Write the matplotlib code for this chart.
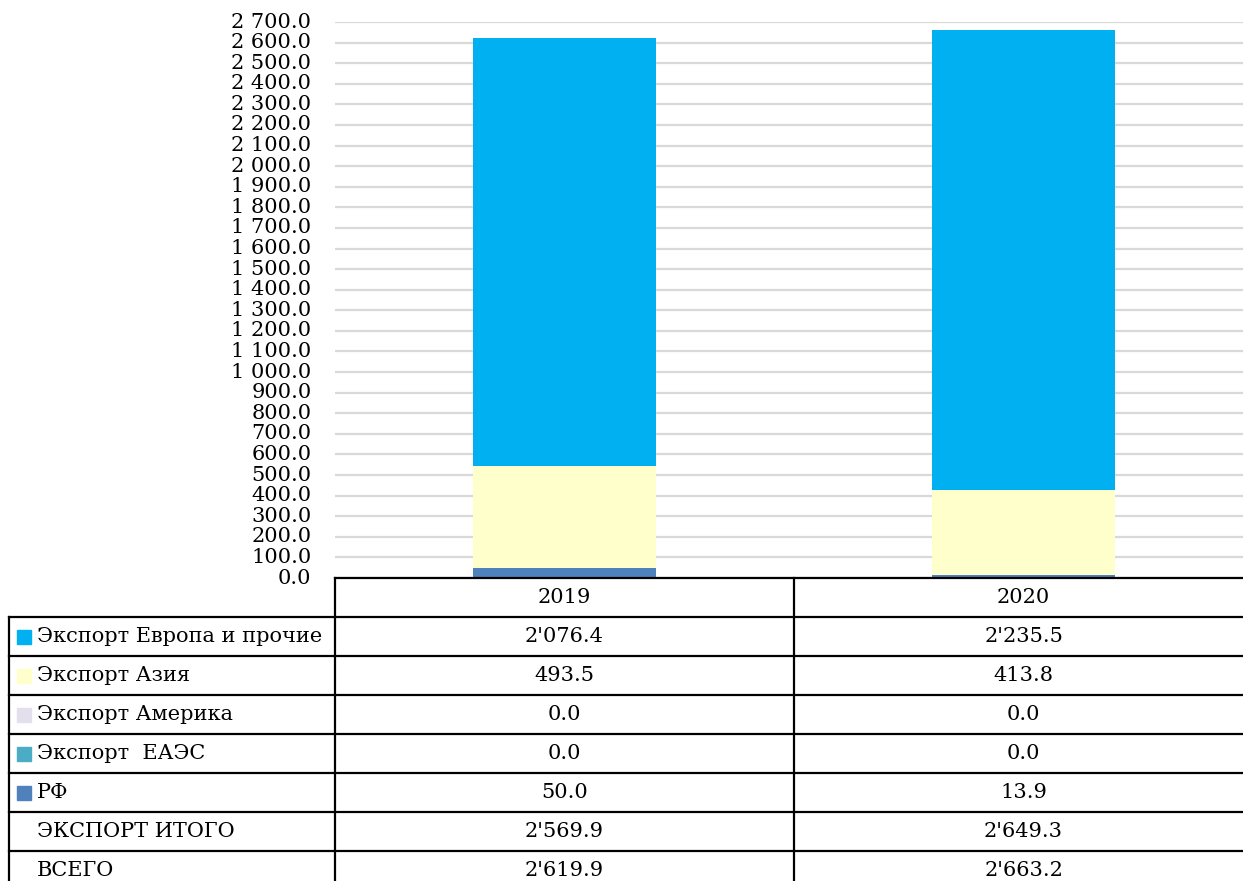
import matplotlib
matplotlib.use("Agg")
import matplotlib.pyplot as plt
from matplotlib.lines import Line2D
from matplotlib.patches import Rectangle
import matplotlib.transforms as mtransforms

years = ["2019", "2020"]
europe = [2076.4, 2235.5]
asia = [493.5, 413.8]
america = [0.0, 0.0]
eaes = [0.0, 0.0]
rf = [50.0, 13.9]
export_total = [2569.9, 2649.3]
total = [2619.9, 2663.2]

series_names = ["Экспорт Европа и прочие", "Экспорт Азия", "Экспорт Америка", "Экспорт  ЕАЭС", "РФ"]
series_values = [europe, asia, america, eaes, rf]
series_colors = ["#00B0F0", "#FFFFCC", "#E4DFEC", "#4BACC6", "#4F81BD"]
extra_rows = ["ЭКСПОРТ ИТОГО", "ВСЕГО"]
extra_values = [export_total, total]
yticks = list(range(0, 2701, 100))

plt.rcParams['font.family'] = ['DejaVu Serif']
FS = 15

W, H = 1243, 881
fig = plt.figure(figsize=(W / 100, H / 100), dpi=100)

def fx(x):
    return x / W

def fy(y):
    return 1 - y / H

ax_left, ax_right, ax_top, ax_bot = 335, 1253, 22, 578
ax = fig.add_axes([fx(ax_left), fy(ax_bot), (ax_right - ax_left) / W, (ax_bot - ax_top) / H])
ax.set_xlim(-0.5, 1.5)
ax.set_ylim(0, 2700)
ax.set_yticks(yticks)
ax.set_yticklabels([f"{v:,.1f}".replace(",", " ") for v in yticks], fontsize=FS)
ax.tick_params(axis='y', length=0, pad=17)
ax.tick_params(axis='x', length=0, labelbottom=False)
for lab in ax.get_yticklabels():
    lab.set_verticalalignment('center')
for s in ax.spines.values():
    s.set_visible(False)
ax.set_axisbelow(True)
ax.yaxis.grid(True, color="#D9D9D9", linewidth=1.6)
ax.set_xticks([])

xs = list(range(len(years)))
bottom = [0.0] * len(years)
# stack from bottom: РФ, ЕАЭС, Америка, Азия, Европа
for name, vals, col in reversed(list(zip(series_names, series_values, series_colors))):
    ax.bar(xs, vals, width=0.4, bottom=bottom, color=col, edgecolor='none', zorder=2)
    bottom = [b + v for b, v in zip(bottom, vals)]

# ---- data table ----
trans_x = mtransforms.blended_transform_factory(ax.transData, fig.transFigure)
row_h = 39
hdr_top = ax_bot
hdr_bot = hdr_top + row_h
n_rows = len(series_names) + len(extra_rows)
lw = 1.6
lab_left = 9

def fmt(v):
    return f"{v:,.1f}".replace(",", "'")

fig.add_artist(Line2D([fx(ax_left), 1.01], [fy(hdr_top)] * 2, color='black', lw=lw))
for b in [-0.5, 0.5]:
    fig.add_artist(Line2D([b, b], [fy(hdr_top), -0.05], color='black', lw=lw, transform=trans_x))
fig.add_artist(Line2D([fx(lab_left)] * 2, [fy(hdr_bot), -0.05], color='black', lw=lw))
for i in range(n_rows):
    y = hdr_bot + i * row_h
    fig.add_artist(Line2D([fx(lab_left), 1.01], [fy(y)] * 2, color='black', lw=lw))

for xi, yr in zip(xs, years):
    fig.text(xi, fy(hdr_top + row_h / 2), yr, transform=trans_x, ha='center', va='center', fontsize=FS)

rows = list(zip(series_names, series_values, series_colors)) + [(n, v, None) for n, v in zip(extra_rows, extra_values)]
for i, (name, vals, col) in enumerate(rows):
    yc = hdr_bot + i * row_h + row_h / 2
    if col is not None:
        fig.add_artist(Rectangle((fx(17), fy(yc + 7)), 14 / W, 14 / H, color=col, transform=fig.transFigure))
    fig.text(fx(37), fy(yc), name, ha='left', va='center', fontsize=FS)
    for xi, v in zip(xs, vals):
        fig.text(xi, fy(yc), fmt(v), transform=trans_x, ha='center', va='center', fontsize=FS)

fig.savefig("out.png", dpi=100)
